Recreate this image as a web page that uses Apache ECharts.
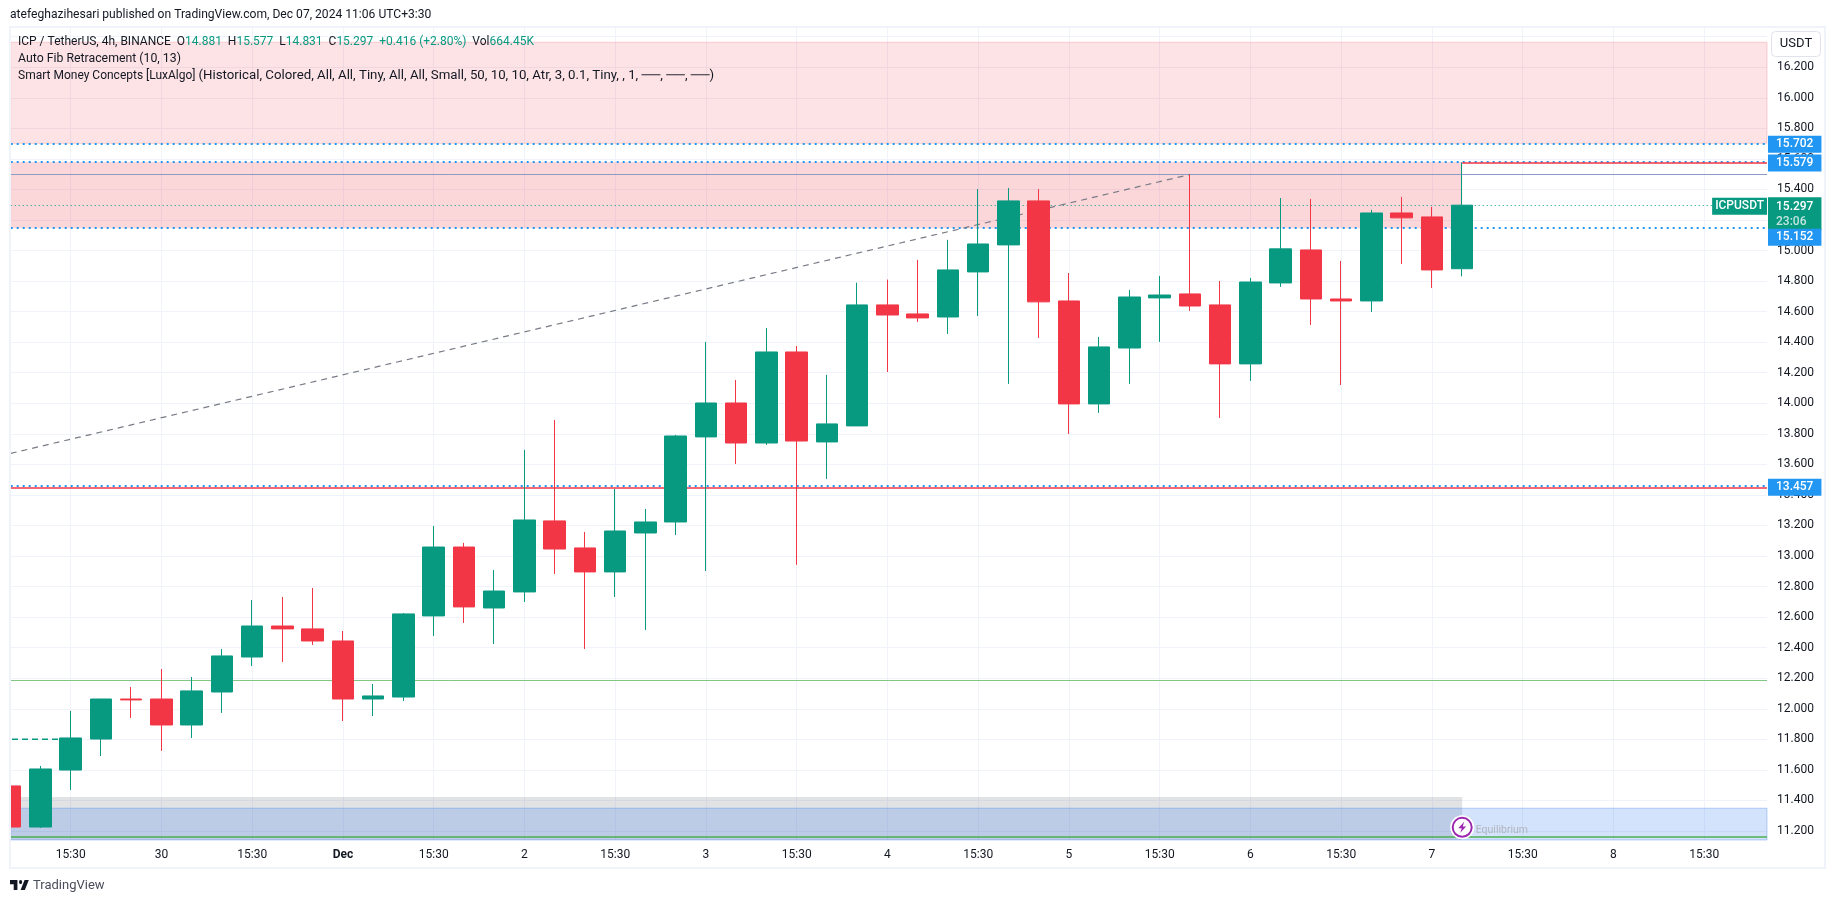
<!DOCTYPE html>
<html>
<head>
<meta charset="utf-8">
<title>ICPUSDT 4h</title>
<script src="https://cdn.jsdelivr.net/npm/echarts@6/dist/echarts.min.js"></script>
<style>
  html, body { margin: 0; padding: 0; background: #fff; }
  #chart { width: 1835px; height: 903px; }
</style>
</head>
<body>
<div id="chart"></div>
<script>
// 4h bars. index 0 is the 15:30 bar of Nov 29
const firstBar = -2
const opens = [11.495, 11.226, 11.599, 11.802, 12.064, 12.064, 11.894, 12.11, 12.339, 12.542, 12.523, 12.444, 12.064, 12.077, 12.608, 13.059, 12.66, 12.765, 13.23, 13.053, 12.896, 13.151, 13.223, 13.78, 14.002, 13.74, 14.336, 13.747, 13.852, 14.644, 14.585, 14.565, 14.86, 15.037, 15.325, 14.67, 13.996, 14.362, 14.69, 14.716, 14.644, 14.258, 14.788, 15.004, 14.683, 14.67, 15.246, 15.22, 14.881]
const closes = [11.226, 11.606, 11.809, 12.064, 12.058, 11.894, 12.117, 12.346, 12.542, 12.523, 12.444, 12.064, 12.084, 12.621, 13.059, 12.667, 12.771, 13.236, 13.046, 12.896, 13.164, 13.223, 13.786, 14.002, 13.74, 14.336, 13.753, 13.865, 14.644, 14.578, 14.559, 14.873, 15.043, 15.325, 14.664, 13.996, 14.369, 14.696, 14.709, 14.637, 14.258, 14.794, 15.011, 14.683, 14.67, 15.246, 15.214, 14.873, 15.297]
const lows = [11.226, 11.22, 11.468, 11.691, 11.94, 11.724, 11.809, 11.973, 12.28, 12.306, 12.418, 11.92, 11.953, 12.051, 12.477, 12.562, 12.424, 12.699, 12.883, 12.392, 12.732, 12.516, 13.138, 12.902, 13.603, 13.727, 12.942, 13.505, 13.852, 14.205, 14.533, 14.454, 14.572, 14.127, 14.428, 13.799, 13.937, 14.127, 14.402, 14.605, 13.904, 14.146, 14.762, 14.513, 14.12, 14.598, 14.912, 14.755, 14.831]
const highs = [11.534, 11.626, 11.986, 12.064, 12.143, 12.261, 12.208, 12.392, 12.712, 12.732, 12.791, 12.509, 12.162, 12.627, 13.197, 13.086, 12.909, 13.695, 13.891, 13.158, 13.439, 13.308, 13.793, 14.402, 14.153, 14.493, 14.375, 14.186, 14.79, 14.81, 14.939, 15.07, 15.403, 15.41, 15.403, 14.853, 14.434, 14.742, 14.834, 15.499, 14.801, 14.821, 15.344, 15.338, 14.932, 15.266, 15.351, 15.286, 15.577]

const xTicks = [0, 3, 6, 9, 12, 15, 18, 21, 24, 27, 30, 33, 36, 39, 42, 45, 48, 51, 54]
const xLabels = ['15:30', '30', '15:30', 'Dec', '15:30', '2', '15:30', '3', '15:30', '4', '15:30', '5', '15:30', '6', '15:30', '7', '15:30', '8', '15:30']
const yTicks = [11.2, 11.4, 11.6, 11.8, 12, 12.2, 12.4, 12.6, 12.8, 13, 13.2, 13.4, 13.6, 13.8, 14, 14.2, 14.4, 14.6, 14.8, 15, 15.2, 15.4, 15.6, 15.8, 16, 16.2, 16.4]
const yLabelTicks = yTicks.slice(0, -1)

// levels and zones
const blueLevels = [15.702, 15.579, 15.152, 13.457]
const lastPrice = 15.297
const supplyZoneFar = [16.364, 15.702]
const supplyZoneNear = [15.579, 15.146]
const demandZone = [11.349, 11.141]
const greyZone = [11.423, 11.141]
const swingLevel = 15.498
const redLevel = 13.446
const equilibrium = 11.163
const greenLevel = 12.187
const highLevel = 15.577
const fibX = [-1.983, 37]
const fibY = [13.672, 15.498]
const dashX = [-1.94, -0.39]
const dashY = [11.8, 11.8]

// pane in pixels, same as the screenshot
const paneLeft = 10.7
const paneRight = 1767
const paneTop = 28
const paneBottom = 840
const xMin = (paneLeft - 70.7) / 30.25
const xMax = (paneRight - 70.7) / 30.25
const yMin = 11.141
const yMax = 16.457

const GREEN = '#089981'
const RED = '#f23645'
const BLUE = '#2196f3'
const INK = '#131722'
const FONT = 'Roboto, sans-serif'

const candleData = opens.map((o, i) => [firstBar + i, o, closes[i], lows[i], highs[i]])

function priceTag (value, color, offsetY) {
  return {
    yAxis: value,
    lineStyle: { color: color, type: [2, 4], width: 2 },
    label: {
      show: true,
      position: 'end',
      distance: 1,
      offset: [0, offsetY || 1],
      formatter: value.toFixed(3),
      color: '#fff',
      fontFamily: FONT,
      fontSize: 12,
      fontWeight: 500,
      backgroundColor: color,
      padding: [3, 8, 2, 8]
    }
  }
}

const chart = echarts.init(document.getElementById('chart'), null, { renderer: 'canvas' })

chart.setOption({
  animation: false,
  backgroundColor: '#fff',
  grid: {
    left: paneLeft,
    top: paneTop,
    width: paneRight - paneLeft,
    height: paneBottom - paneTop,
    containLabel: false
  },
  xAxis: {
    type: 'value',
    min: xMin,
    max: xMax,
    axisLine: { show: false },
    axisTick: { show: false, customValues: xTicks },
    splitLine: { show: true, lineStyle: { color: '#f0f3fa', width: 1 } },
    axisLabel: {
      customValues: xTicks,
      margin: 9,
      color: INK,
      fontFamily: FONT,
      fontSize: 12,
      hideOverlap: false,
      formatter: v => {
        const s = xLabels[xTicks.indexOf(v)]
        return s === 'Dec' ? '{b|Dec}' : s
      },
      rich: { b: { fontWeight: 'bold', color: INK, fontFamily: FONT, fontSize: 12 } }
    }
  },
  yAxis: {
    type: 'value',
    position: 'right',
    min: yMin,
    max: yMax,
    scale: true,
    axisLine: { show: false },
    axisTick: { show: false, customValues: yTicks },
    splitLine: { show: true, lineStyle: { color: '#f0f3fa', width: 1 } },
    axisLabel: {
      customValues: yLabelTicks,
      margin: 10,
      color: INK,
      fontFamily: FONT,
      fontSize: 12,
      hideOverlap: false,
      padding: [2, 0, 0, 0],
      formatter: v => v.toFixed(3)
    }
  },
  series: [
    {
      type: 'candlestick',
      z: 3,
      clip: true,
      barWidth: 22,
      itemStyle: { color: GREEN, color0: RED, borderColor: GREEN, borderColor0: RED, borderWidth: 1 },
      data: candleData,
      markArea: {
        silent: true,
        z: 1,
        label: { show: false },
        data: [
          [{ coord: [xMin, supplyZoneFar[0]], itemStyle: { color: 'rgba(242,54,69,0.14)', borderColor: 'rgba(242,54,69,0.2)', borderWidth: 1 } }, { coord: [xMax, supplyZoneFar[1]] }],
          [{ coord: [xMin, supplyZoneNear[0]], itemStyle: { color: 'rgba(242,54,69,0.2)' } }, { coord: [firstBar + 48, supplyZoneNear[1]] }],
          [{ coord: [xMin, greyZone[0]], itemStyle: { color: 'rgba(105,110,120,0.2)' } }, { coord: [firstBar + 48, greyZone[1]] }],
          [{ coord: [xMin, demandZone[0]], itemStyle: { color: 'rgba(40,115,240,0.2)', borderColor: 'rgba(40,115,240,0.3)', borderWidth: 1 } }, { coord: [xMax, demandZone[1]] }]
        ]
      },
      markLine: {
        silent: true,
        z: 2,
        symbol: 'none',
        precision: 3,
        data: [
          priceTag(blueLevels[0], BLUE),
          priceTag(blueLevels[1], BLUE),
          priceTag(blueLevels[3], BLUE),
          { yAxis: swingLevel, lineStyle: { color: '#8a9bc4', type: 'solid', width: 1 }, label: { show: false } },
          { yAxis: redLevel, lineStyle: { color: RED, type: 'solid', width: 1.5 }, label: { show: false } },
          { yAxis: greenLevel, lineStyle: { color: '#81c784', type: 'solid', width: 1 }, label: { show: false } },
          { yAxis: equilibrium, lineStyle: { color: '#4caf50', type: 'solid', width: 1.5 }, label: { show: false } },
          [
            { coord: [firstBar + 48, highLevel], lineStyle: { color: RED, type: 'solid', width: 1.5 }, label: { show: false } },
            { coord: [xMax, highLevel] }
          ],
          // last price line and its two tags
          {
            yAxis: lastPrice,
            lineStyle: { color: GREEN, type: [1, 3], width: 1.2 },
            label: {
              show: true,
              position: 'insideEndTop',
              distance: 0,
              verticalAlign: 'middle',
              offset: [0, 1],
              formatter: 'ICPUSDT',
              color: '#fff',
              fontFamily: FONT,
              fontSize: 12,
              fontWeight: 500,
              backgroundColor: GREEN,
              padding: [3, 3, 2, 3]
            }
          },
          {
            yAxis: lastPrice,
            lineStyle: { color: 'rgba(0,0,0,0)', width: 1 },
            label: {
              show: true,
              position: 'end',
              distance: 1,
              offset: [0, 8.5],
              formatter: lastPrice.toFixed(3) + '\n{t|23:06}',
              color: '#fff',
              fontFamily: FONT,
              fontSize: 12,
              fontWeight: 500,
              lineHeight: 15,
              backgroundColor: GREEN,
              padding: [2, 8, 1, 8],
              rich: { t: { color: 'rgba(255,255,255,0.75)', fontFamily: FONT, fontSize: 12, lineHeight: 15 } }
            }
          },
          // comes after the green tag so it sits on top of it
          priceTag(blueLevels[2], BLUE, 10)
        ]
      },
      markPoint: {
        silent: true,
        z: 6,
        data: [
          { coord: [firstBar + 48, 11.224], symbol: 'circle', symbolSize: 24, itemStyle: { color: '#fff' }, label: { show: false } },
          {
            coord: [firstBar + 48, 11.224],
            symbol: 'circle',
            symbolSize: 19,
            itemStyle: { color: '#fff', borderColor: '#9c27b0', borderWidth: 2 },
            label: {
              show: true,
              position: 'right',
              distance: 3,
              offset: [0, 3],
              formatter: 'Equilibrium',
              color: '#b2b5be',
              fontFamily: FONT,
              fontSize: 10.5
            }
          },
          {
            coord: [firstBar + 48, 11.224],
            symbol: 'path://M7 0 L1 7 L4.5 7 L3 12 L9 5 L5.5 5 Z',
            symbolSize: [8, 11],
            itemStyle: { color: '#9c27b0' },
            label: { show: false }
          }
        ]
      }
    },
    {
      // fib retracement trend line
      type: 'line',
      z: 2,
      symbol: 'none',
      silent: true,
      data: fibX.map((x, i) => [x, fibY[i]]),
      lineStyle: { color: '#787b86', type: [6, 5], width: 1.2 }
    },
    {
      // short dashed level left of the third bar
      type: 'line',
      z: 2,
      symbol: 'none',
      silent: true,
      data: dashX.map((x, i) => [x, dashY[i]]),
      lineStyle: { color: GREEN, type: [6, 4], width: 1.5 }
    }
  ],
  graphic: [
    // the first bar is cut by the pane edge in the screenshot
    { type: 'rect', silent: true, z: 49, shape: { x: 0, y: 27, width: 10, height: 841 }, style: { fill: '#fff' } },
    // frame
    { type: 'rect', silent: true, z: 50, shape: { x: 10, y: 27, width: 1815, height: 841 }, style: { fill: 'none', stroke: '#f0f3fa', lineWidth: 2 } },
    { type: 'text', silent: true, z: 60, x: 10, y: 15, style: { text: 'atefeghazihesari published on TradingView.com, Dec 07, 2024 11:06 UTC+3:30', fill: INK, font: '12.1px ' + FONT, verticalAlign: 'middle' } },
    {
      type: 'text',
      silent: true,
      z: 60,
      x: 18,
      y: 42,
      style: {
        text: '{d|ICP / TetherUS, 4h, BINANCE  O}{g|14.881}{d|  H}{g|15.577}{d|  L}{g|14.831}{d|  C}{g|15.297}{g|  +0.416 (+2.80%)}{d|  Vol}{g|664.45K}',
        verticalAlign: 'middle',
        rich: {
          d: { fill: INK, font: '12px ' + FONT },
          g: { fill: GREEN, font: '12px ' + FONT }
        }
      }
    },
    { type: 'text', silent: true, z: 60, x: 18, y: 59, style: { text: 'Auto Fib Retracement (10, 13)', fill: INK, font: '12.3px ' + FONT, verticalAlign: 'middle' } },
    {
      type: 'text',
      silent: true,
      z: 60,
      x: 18,
      y: 76,
      style: {
        text: '{a|Smart Money Concepts [LuxAlgo] }{b|(Historical, Colored, All, All, Tiny, All, All, Small, 50, 10, 10, Atr, 3, 0.1, Tiny, , 1, ──, ──, ──)}',
        verticalAlign: 'middle',
        rich: {
          a: { fill: INK, font: '12px ' + FONT },
          b: { fill: INK, font: '13.25px ' + FONT }
        }
      }
    },
    // currency button
    { type: 'rect', silent: true, z: 60, shape: { x: 1771.5, y: 31.5, width: 49, height: 25, r: 4 }, style: { fill: '#fff', stroke: '#e0e3eb', lineWidth: 1 } },
    { type: 'text', silent: true, z: 61, x: 1796, y: 44, style: { text: 'USDT', fill: INK, font: '13px ' + FONT, align: 'center', verticalAlign: 'middle' } },
    // TradingView logo
    {
      type: 'group',
      silent: true,
      z: 60,
      x: 10,
      y: 875.7,
      scaleX: 0.53,
      scaleY: 0.71,
      children: [
        { type: 'polygon', z: 60, shape: { points: [[0, 6], [14, 6], [14, 20], [7, 20], [7, 12], [0, 12]] }, style: { fill: INK } },
        { type: 'polygon', z: 60, shape: { points: [[28, 20], [20, 20], [27.5, 6], [35.5, 6]] }, style: { fill: INK } },
        { type: 'circle', z: 60, shape: { cx: 20, cy: 9, r: 3 }, style: { fill: INK } }
      ]
    },
    { type: 'text', silent: true, z: 60, x: 33, y: 886, style: { text: 'TradingView', fill: '#4a4e5a', font: '13px ' + FONT, verticalAlign: 'middle' } }
  ]
})
</script>
</body>
</html>
